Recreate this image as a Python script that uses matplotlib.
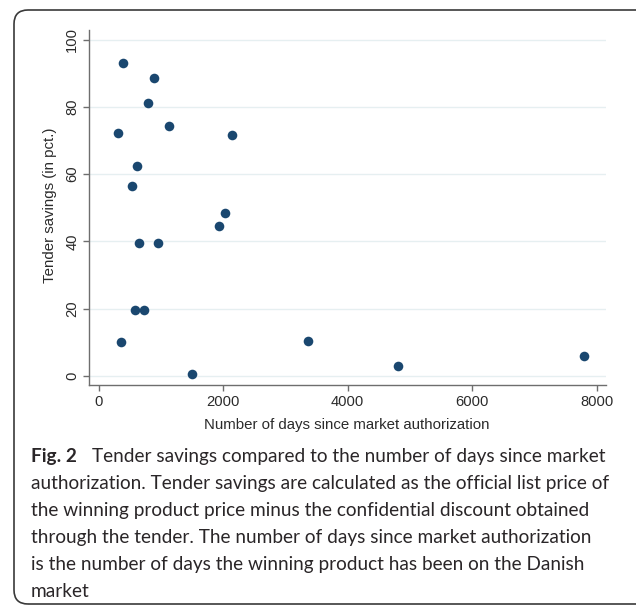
import matplotlib
matplotlib.use('Agg')
import matplotlib.pyplot as plt
from matplotlib.patches import FancyBboxPatch

# values
days = [391, 889, 793, 1131, 306, 2139, 616, 536, 2027, 1935,
        648, 960, 590, 729, 354, 3367, 1491, 4813, 7801]
savings = [93.2, 88.7, 81.2, 74.2, 72.2, 71.5, 62.5, 56.5, 48.3, 44.6,
           39.6, 39.6, 19.6, 19.6, 9.9, 10.3, 0.4, 3.0, 5.9]
x_ticks = [0, 2000, 4000, 6000, 8000]
y_ticks = [0, 20, 40, 60, 80, 100]

x_label = 'Number of days since market authorization'
y_label = 'Tender savings (in pct.)'
caption_head = 'Fig. 2'
caption_lines = [
    'Tender savings compared to the number of days since market',
    'authorization. Tender savings are calculated as the official list price of',
    'the winning product price minus the confidential discount obtained',
    'through the tender. The number of days since market authorization',
    'is the number of days the winning product has been on the Danish',
    'market',
]

W, H = 636, 606
fig = plt.figure(figsize=(W / 100, H / 100), dpi=100)

def fx(px):
    return px / W

def fy(py):
    return 1 - py / H

ax = fig.add_axes([fx(89), fy(385), fx(606) - fx(89), fy(30) - fy(385)])
ax.scatter(days, savings, s=48, color='#1a476f', zorder=3, linewidths=0)
ax.set_xlim(-156, 8150)
ax.set_ylim(-2.77, 102.9)
ax.set_xticks(x_ticks)
ax.set_yticks(y_ticks)
ax.grid(axis='y', color='#e6eff1', linewidth=1.0, zorder=0)
for side in ['top', 'right']:
    ax.spines[side].set_visible(False)
for side in ['left', 'bottom']:
    ax.spines[side].set_color('#6e6e6e')
    ax.spines[side].set_linewidth(1.0)
ax.tick_params(colors='#6e6e6e', length=4, width=1.0, labelcolor='#2b2b2b',
               labelsize=10.6, pad=3)
for lab in ax.get_yticklabels():
    lab.set_family('Liberation Sans')
    lab.set_rotation(90)
    lab.set_va('center')
for lab in ax.get_xticklabels():
    lab.set_family('Liberation Sans')

fig.text(fx(347), fy(425), x_label, ha='center', va='center',
         family='Liberation Sans', fontsize=10.8, color='#2b2b2b')
fig.text(fx(50), fy(205), y_label, ha='center', va='center', rotation=90,
         family='Liberation Sans', fontsize=10.8, color='#2b2b2b')

# caption, font size fitted to the width of the second line
cap_color = '#2a2628'
renderer = fig.canvas.get_renderer()
probe = fig.text(0, 0, caption_lines[1], family='Lato', fontsize=14)
w = probe.get_window_extent(renderer).width
probe.remove()
cap_size = 14 * 581 / w

baselines = [461.7 + 27 * i for i in range(len(caption_lines))]
fig.text(fx(31), fy(baselines[0]), caption_head, family='Lato', weight='bold',
         fontsize=cap_size, color=cap_color, va='baseline')
for i, line in enumerate(caption_lines):
    x0 = 92 if i == 0 else 31
    fig.text(fx(x0), fy(baselines[i]), line, family='Lato',
             fontsize=cap_size, color=cap_color, va='baseline')

# rounded frame around the figure
frame = FancyBboxPatch((14, 2), 640, 594, boxstyle='round,pad=0,rounding_size=14',
                       transform=None, facecolor='none', edgecolor='#3a3a3a',
                       linewidth=1.2)
fig.patches.append(frame)

fig.savefig('out.png', dpi=100)
